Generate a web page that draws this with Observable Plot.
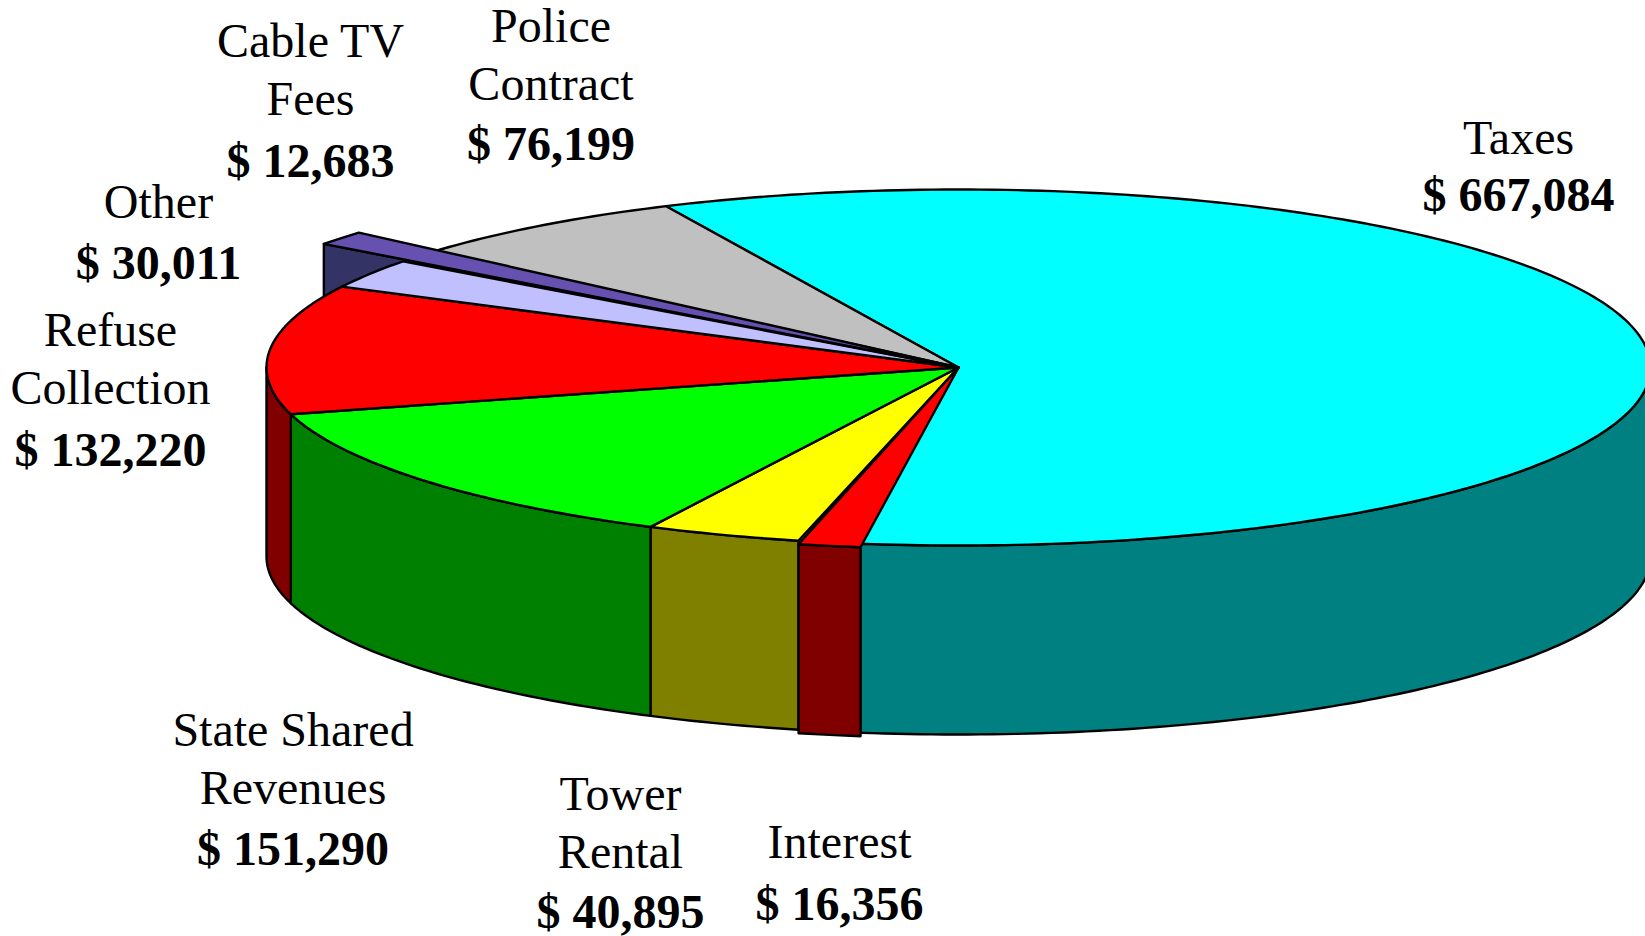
<!DOCTYPE html>
<html>
<head>
<meta charset="utf-8">
<style>html,body{margin:0;padding:0;background:#fff;overflow:hidden}svg{display:block}</style>
<script src="https://cdn.jsdelivr.net/npm/d3@7"></script>
<script src="https://cdn.jsdelivr.net/npm/@observablehq/plot@0.6"></script>
</head>
<body>
<div id="chart"></div>
<script>
// Data, clockwise from the Taxes wedge
const categories = ["Taxes", "Interest", "Tower\nRental", "State Shared\nRevenues", "Refuse\nCollection", "Other", "Cable TV\nFees", "Police\nContract"];
const values = [667084, 16356, 40895, 151290, 132220, 30011, 12683, 76199];
const valueLabels = ["$ 667,084", "$ 16,356", "$ 40,895", "$ 151,290", "$ 132,220", "$ 30,011", "$ 12,683", "$ 76,199"];

// Styling
const topColors = ["#00ffff", "#ff0000", "#ffff00", "#00ff00", "#ff0000", "#c0c0ff", "#6650b0", "#c0c0c0"];
const sideColors = ["#008080", "#800000", "#808000", "#008000", "#800000", "#606080", "#333366", "#606060"];
const reach = [1, 1, 1, 1, 1, 1, 1.146, 1];
const shiftX = [0, 0, 0, 0, 0, 0, 2, 0];
const shiftY = [0, 3.5, 0, 0, 0, 0, -2, 0];

// Label placement (page pixels)
const labelX = [1518, 839, 620, 292.5, 110, 158, 310, 550.5];
const nameBase = [153, 857, 867, 803, 403, 217, 114, 99];
const valueBase = [210.5, 919, 927, 864, 465, 278, 176, 159.5];

// Pie projection
const W = 1645, H = 936, cx = 958, cy = 367, a = 692, b = 178, depth = 189, startDeg = -25;
const total = d3.sum(values);
const ends = d3.cumsum(values).map(v => startDeg + v / total * 360);
const starts = ends.map((e, i) => e - values[i] / total * 360);
const rad = d => d * Math.PI / 180;
const rim = (deg, i) => [
  cx + a * reach[i] * Math.sin(rad(deg)) + shiftX[i],
  cy - b * reach[i] * Math.cos(rad(deg)) + shiftY[i]
];
const arc = (s, e, i) => {
  const n = Math.max(2, Math.ceil(Math.abs(e - s)));
  return d3.range(n + 1).map(k => rim(s + (e - s) * k / n, i));
};
const down = ([x, y]) => [x, y + depth];

const topFace = i => [[cx, cy], ...arc(starts[i], ends[i], i)];
// Outer wall: only the part of the rim facing the viewer (90..270 degrees)
const wall = i => {
  const s = Math.max(starts[i], 90), e = Math.min(ends[i], 270);
  if (e <= s) return null;
  const pts = arc(s, e, i);
  return [...pts, ...pts.slice().reverse().map(down)];
};
// Cut face of the pulled-out Cable TV wedge
const CABLE = 6;
const cutFace = i => {
  const p = rim(starts[i], i);
  return [p, [cx, cy], down([cx, cy]), down(p)];
};

const poly = (pts, fill) => Plot.line(pts, {
  x: d => d[0], y: d => d[1], fill, stroke: "#000", strokeWidth: 2.4,
  curve: "linear-closed", strokeLinejoin: "round"
});

const order = [0, 2, 3, 4, 5, 7, 1];       // Interest last among the ordinary wedges
const fontFamily = "Liberation Serif";
const labels = categories.map((c, i) => ({name: c, value: valueLabels[i], x: labelX[i], nb: nameBase[i], vb: valueBase[i]}));

const marks = [
  poly(cutFace(CABLE), sideColors[CABLE]),
  ...order.filter(i => wall(i)).map(i => poly(wall(i), sideColors[i])),
  ...order.map(i => poly(topFace(i), topColors[i])),
  poly(topFace(CABLE), topColors[CABLE]),
  Plot.text(labels, {x: "x", y: "nb", text: "name", fontFamily, fontSize: 48, lineAnchor: "bottom", lineHeight: 1.19, textAnchor: "middle", fill: "#000"}),
  Plot.text(labels, {x: "x", y: "vb", text: "value", fontFamily, fontSize: 48, fontWeight: "bold", lineAnchor: "bottom", textAnchor: "middle", fill: "#000"})
];

const chart = Plot.plot({
  width: W, height: H, margin: 0,
  x: {domain: [0, W], range: [0, W], axis: null},
  y: {domain: [0, H], range: [0, H], axis: null},
  style: {background: "#fff"},
  marks
});
document.getElementById("chart").append(chart);
</script>
</body>
</html>
